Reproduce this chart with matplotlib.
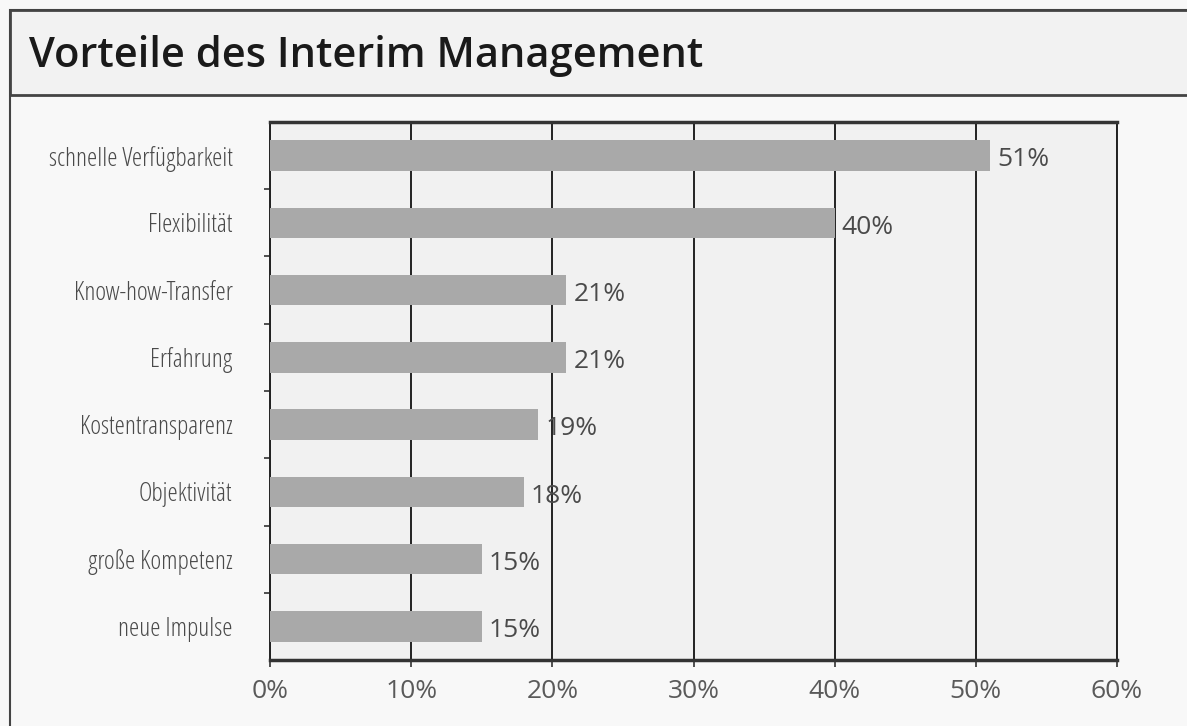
import matplotlib.pyplot as plt
from matplotlib.patches import Rectangle

# data (top to bottom)
categories = [
    "schnelle Verfügbarkeit",
    "Flexibilität",
    "Know-how-Transfer",
    "Erfahrung",
    "Kostentransparenz",
    "Objektivität",
    "große Kompetenz",
    "neue Impulse",
]
values = [51, 40, 21, 21, 19, 18, 15, 15]
x_ticks = [0, 10, 20, 30, 40, 50, 60]
title = "Vorteile des Interim Management"

plt.rcParams["font.family"] = ["Open Sans", "DejaVu Sans"]

fig = plt.figure(figsize=(11.87, 7.26), dpi=100, facecolor="#f8f8f8")

# outer frame and title band
fig.patches.append(Rectangle((10 / 1187, -0.05), 1.2, 1 - 10 / 726 + 0.05,
                             transform=fig.transFigure, fill=False,
                             edgecolor="#444444", linewidth=1.5))
fig.patches.append(Rectangle((10 / 1187, 1 - 95 / 726), 1.2, 85 / 726,
                             transform=fig.transFigure, facecolor="#f2f2f2",
                             edgecolor="#444444", linewidth=2))
fig.text(29 / 1187, 1 - 56 / 726, title, fontsize=30, fontweight="semibold",
         fontstretch="normal", color="#1a1a1a", va="center", ha="left")

ax = fig.add_axes([270 / 1187, 1 - 660 / 726, 847 / 1187, 538 / 726])
ax.set_facecolor("#f1f1f1")

ypos = list(range(len(categories)))
bars = ax.barh(ypos, values, height=0.45, color="#a9a9a9", zorder=3)
ax.set_ylim(len(categories) - 0.5, -0.5)
ax.set_xlim(0, 60)

for y, v in zip(ypos, values):
    ax.annotate(f"{v}%", (v, y), xytext=(5, -3), textcoords="offset points",
                va="center", ha="left", fontsize=19, fontstretch="normal",
                color="#4a4a4a", zorder=4)

ax.set_xticks(x_ticks)
ax.set_xticklabels([f"{t}%" for t in x_ticks], fontsize=19,
                   fontstretch="normal", color="#5a5a5a")
ax.tick_params(axis="x", length=5, width=1.2, color="#333333", pad=9)
ax.grid(axis="x", color="#222222", linewidth=1.4, zorder=1)

# category labels between ticks, ticks at category boundaries
ax.set_yticks(ypos)
ax.set_yticklabels(categories, fontsize=18.5, fontstretch="condensed",
                   color="#4a4a4a")
ax.set_yticks([i + 0.5 for i in ypos[:-1]], minor=True)
ax.tick_params(axis="y", which="major", length=0, pad=27)
ax.tick_params(axis="y", which="minor", length=4, width=1.2, color="#333333")

for side in ["left", "right"]:
    ax.spines[side].set_color("#222222")
    ax.spines[side].set_linewidth(1.4)
for side in ["top", "bottom"]:
    ax.spines[side].set_color("#333333")
    ax.spines[side].set_linewidth(2.5)

fig.savefig("out.png", dpi=100, facecolor=fig.get_facecolor())
